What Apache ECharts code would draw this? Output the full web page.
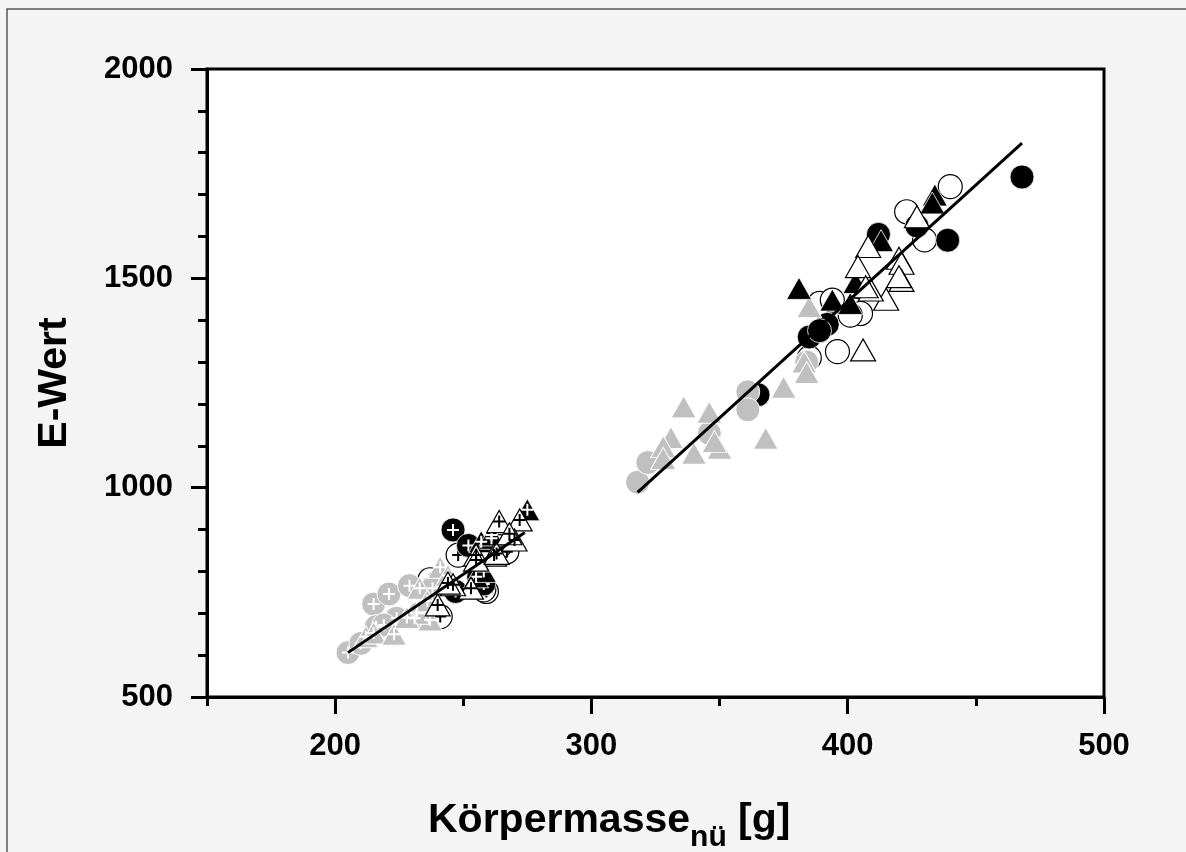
<!DOCTYPE html>
<html><head><meta charset="utf-8">
<script src="https://cdn.jsdelivr.net/npm/echarts@6/dist/echarts.min.js"></script>
<style>html,body{margin:0;padding:0;background:#f4f4f4;}#c{width:1186px;height:852px;}</style>
</head><body><div id="c"></div>
<script>
// Axis ticks
const xMajorTicks = [200, 300, 400, 500];
const xMinorTicks = [150, 250, 350, 450];
const yMajorTicks = [500, 1000, 1500, 2000];
const yMinorTicks = [600, 700, 800, 900, 1100, 1200, 1300, 1400, 1600, 1700, 1800, 1900];

// Small group (markers with "+")
const smallGreyCircle = [[205,606],[210,628],[215,722],[216,668],[221,746],[224,688],[229,766],[219,672],[233,700],[238,760]];
const smallGreyTri = [[212,644],[215,653],[223,650],[231,688],[237,684],[233,760],[241,810],[232,700],[228,690],[236,730],[244,790]];
const smallBlackCircle = [[246,899],[252,862],[247,752],[256,787],[258,770]];
const smallBlackTri = [[275,947],[257,871],[261,879],[255,787],[261,887],[258,800]];
const smallOpenCircle = [[248,839],[267,847],[259,752],[264,859],[241,692],[237,780],[258,756]];
const smallOpenTri = [[264,919],[272,923],[255,839],[262,839],[270,875],[253,760],[246,768],[240,720],[255,827],[263,843],[244,772],[268,890]];

// Large group (markers without "+")
const bigGreyCircle = [[318,1013],[322,1060],[346,1130],[361,1229],[361,1186],[384,1300]];
const bigGreyTri = [[336,1193],[346,1180],[331,1120],[328,1098],[340,1082],[350,1094],[348,1110],[368,1118],[375,1240],[385,1432],[383,1300],[384,1275],[328,1070]];
const bigBlackCircle = [[468,1742],[439,1591],[412,1605],[427,1625],[385,1360],[392,1390],[389,1375],[365,1222]];
const bigOpenCircle = [[440,1719],[423,1659],[430,1592],[396,1325],[385,1310],[389,1440],[403,1424],[405,1416],[401,1412],[394,1448]];
const bigBlackTri = [[381,1476],[394,1448],[401,1440],[403,1490],[434,1699],[433,1680],[413,1590]];
const bigOpenTri = [[406,1329],[427,1647],[408,1576],[404,1528],[420,1548],[421,1536],[421,1495],[415,1450],[409,1472],[420,1504],[407,1480]];

// Regression lines
const fitSmall = [[205,606],[274,893]];
const fitLarge = [[318,989],[468,1823]];

const GREY = '#c0c0c0';
const PLUS = 'path://M5,0H7V5H12V7H7V12H5V7H0V5H5Z';
const TRI_SIZE = [25, 22];
const CIR_SIZE = 24;

function marker(data, shape, fill, border, bw) {
  return {type:'scatter', data: data, symbol: shape, symbolSize: shape === 'circle' ? CIR_SIZE : TRI_SIZE,
    itemStyle: {color: fill, borderColor: border, borderWidth: bw, opacity: 1}, silent: true, animation: false};
}
function plus(data, color) {
  return {type:'scatter', data: data, symbol: PLUS, symbolSize: 12,
    itemStyle: {color: color, opacity: 1}, silent: true, animation: false};
}
function fit(data) {
  return {type:'line', data: data, symbol: 'none', lineStyle: {color:'#000', width: 3}, silent: true, animation: false, z: 5};
}

const labelFont = {fontFamily: 'Liberation Sans, Arial, sans-serif', fontWeight: 'bold', fontSize: 31, color: '#000'};
const plain = v => String(v);

const chart = echarts.init(document.getElementById('c'), null, {renderer: 'canvas'});
chart.setOption({
  backgroundColor: '#f4f4f4',
  animation: false,
  grid: {left: 207, top: 69, right: 82, bottom: 155, show: true, backgroundColor: '#fff', borderColor: '#000', borderWidth: 3},
  graphic: [
    {type: 'rect', shape: {x: 7, y: 9, width: 1400, height: 1200}, style: {fill: null, stroke: '#555', lineWidth: 1.5}, silent: true, z: -10},
    {type: 'text', left: 428, top: 800, style: {
      text: '{a|Körpermasse}{b|nü}{a| [g]}',
      rich: {
        a: {fontFamily: 'Liberation Sans, Arial, sans-serif', fontWeight: 'bold', fontSize: 41, lineHeight: 46, padding: [0,0,12,0], verticalAlign: 'bottom', fill: '#000'},
        b: {fontFamily: 'Liberation Sans, Arial, sans-serif', fontWeight: 'bold', fontSize: 30, lineHeight: 46, verticalAlign: 'bottom', fill: '#000'}
      }
    }}
  ],
  xAxis: [
    {type: 'value', min: 150, max: 500, interval: 50, position: 'bottom',
     axisLine: {show: true, onZero: false, lineStyle: {color: '#000', width: 3}},
     axisTick: {show: true, customValues: xMajorTicks, length: 17, lineStyle: {color: '#000', width: 3}},
     axisLabel: Object.assign({customValues: xMajorTicks, margin: 34, formatter: plain}, labelFont),
     splitLine: {show: false}},
    {type: 'value', min: 150, max: 500, interval: 50, position: 'bottom',
     axisLine: {show: false, onZero: false},
     axisTick: {show: true, customValues: xMinorTicks, length: 9, lineStyle: {color: '#000', width: 3}},
     axisLabel: {show: false}, splitLine: {show: false}}
  ],
  yAxis: [
    {type: 'value', min: 500, max: 2000, interval: 100, position: 'left',
     name: 'E-Wert', nameLocation: 'middle', nameGap: 132, nameRotate: 90,
     nameTextStyle: {fontFamily: 'Liberation Sans, Arial, sans-serif', fontWeight: 'bold', fontSize: 41, color: '#000'},
     axisLine: {show: true, onZero: false, lineStyle: {color: '#000', width: 3}},
     axisTick: {show: true, customValues: yMajorTicks, length: 16, lineStyle: {color: '#000', width: 3}},
     axisLabel: Object.assign({customValues: yMajorTicks, margin: 34, formatter: plain}, labelFont),
     splitLine: {show: false}},
    {type: 'value', min: 500, max: 2000, interval: 100, position: 'left',
     axisLine: {show: false, onZero: false},
     axisTick: {show: true, customValues: yMinorTicks, length: 9, lineStyle: {color: '#000', width: 3}},
     axisLabel: {show: false}, splitLine: {show: false}}
  ],
  series: [
    marker(smallOpenCircle, 'circle', '#fff', '#000', 1.2), plus(smallOpenCircle, '#000'),
    marker(smallBlackCircle, 'circle', '#000', '#fff', 0.8), plus(smallBlackCircle, '#fff'),
    marker(smallGreyCircle, 'circle', GREY, '#fff', 1), plus(smallGreyCircle, '#fff'),
    marker(smallGreyTri, 'triangle', GREY, '#fff', 1), plus(smallGreyTri, '#fff'),
    marker(smallBlackTri, 'triangle', '#000', '#fff', 0.8), plus(smallBlackTri, '#fff'),
    marker(smallOpenTri, 'triangle', '#fff', '#000', 1.2), plus(smallOpenTri, '#000'),
    marker(bigOpenCircle, 'circle', '#fff', '#000', 1.2),
    marker(bigBlackCircle, 'circle', '#000', '#fff', 0.8),
    marker(bigGreyCircle, 'circle', GREY, '#fff', 1),
    marker(bigGreyTri, 'triangle', GREY, '#fff', 1),
    marker(bigBlackTri, 'triangle', '#000', '#fff', 0.8),
    marker(bigOpenTri, 'triangle', '#fff', '#000', 1.2),
    fit(fitSmall),
    fit(fitLarge)
  ]
});
</script></body></html>
